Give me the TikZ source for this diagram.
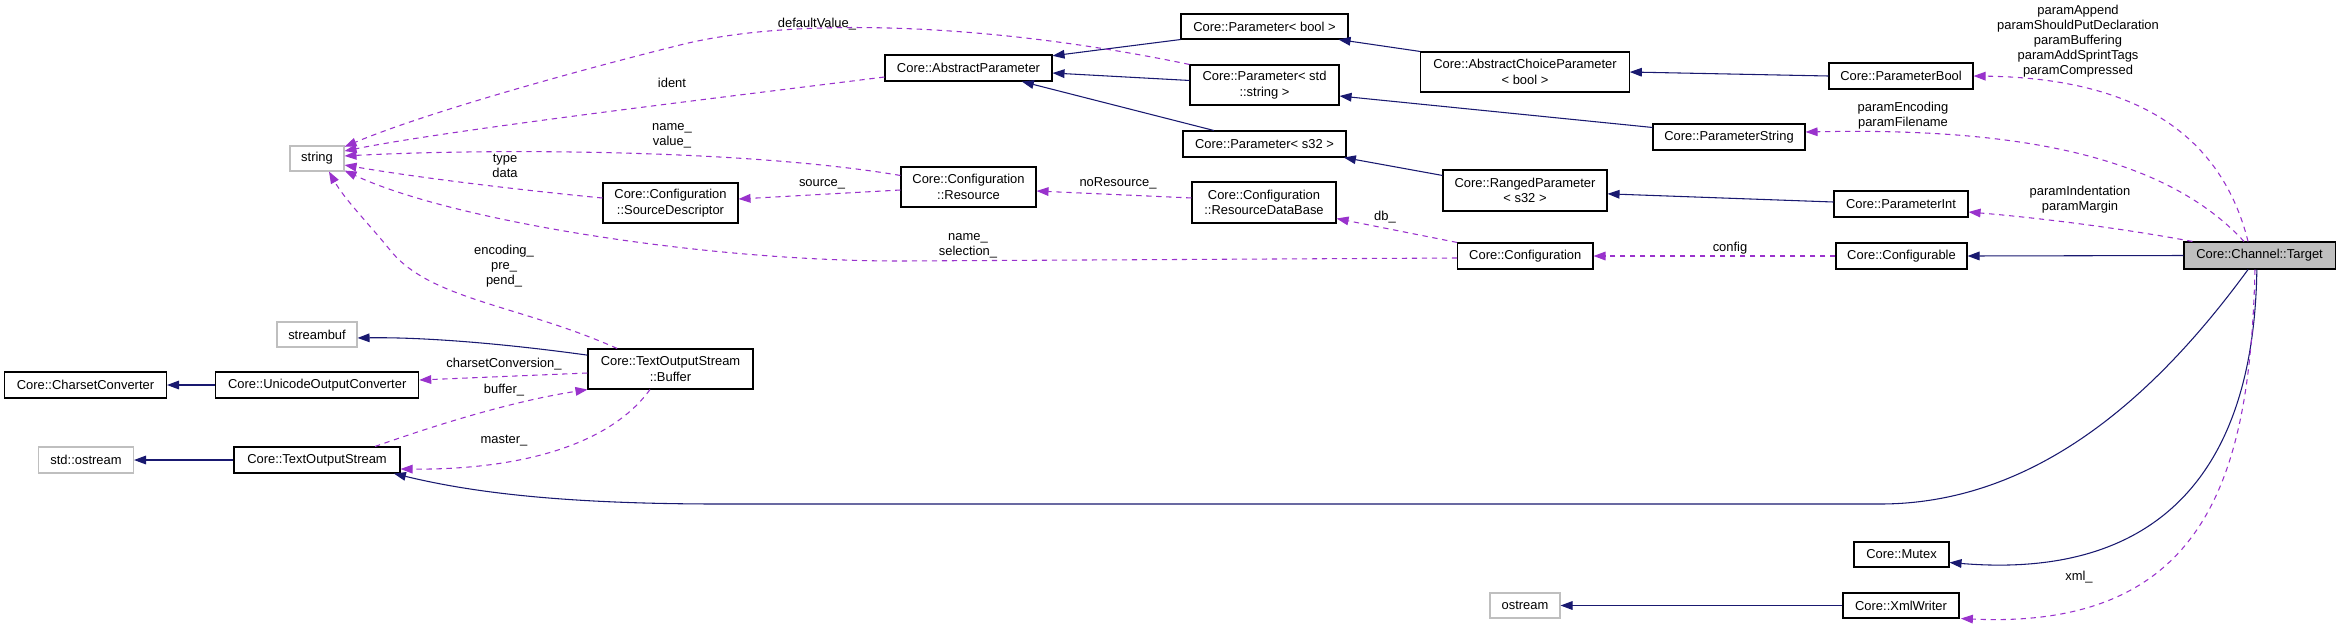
\documentclass[tikz,border=0pt]{standalone}
\usepackage{fontspec}
\setmainfont{Liberation Sans}
\usetikzlibrary{arrows.meta}
\definecolor{inhcol}{RGB}{25,25,112}
\definecolor{usecol}{RGB}{153,50,204}
\definecolor{undoc}{RGB}{191,191,191}
\begin{document}
\begin{tikzpicture}[x=0.75pt,y=-0.75pt,
  box/.style={draw=black, line width=0.8pt, fill=white, inner sep=0pt, align=center,
    font=\fontsize{9.7}{11.5}\selectfont},
  gbox/.style={box, draw=undoc},
  inh/.style={draw=inhcol, line width=0.8pt, -{Triangle[length=9pt,width=6.5pt]}},
  use/.style={draw=usecol, line width=0.8pt, dash pattern=on 4pt off 3.5pt, -{Triangle[length=9pt,width=6.5pt]}},
  lbl/.style={inner sep=0pt, align=center, font=\fontsize{9.7}{11.25}\selectfont}]
\useasboundingbox (0,0) rectangle (2340,629);
% nodes
\node[gbox, minimum width=40.5pt, minimum height=18.75pt] (string) at (317,158.5) {string};
\node[gbox, minimum width=60pt, minimum height=18.75pt] (streambuf) at (317,334.5) {streambuf};
\node[box, minimum width=121.5pt, minimum height=19.5pt] (charset) at (85.5,385) {Core::CharsetConverter};
\node[box, minimum width=152.25pt, minimum height=19.5pt] (unicode) at (317.2,385) {Core::UnicodeOutputConverter};
\node[gbox, minimum width=71.25pt, minimum height=19.5pt] (stdostream) at (86,460) {std::ostream};
\node[box, minimum width=124.5pt, minimum height=19.5pt] (textout) at (317,460) {Core::TextOutputStream};
\node[box, minimum width=123.75pt, minimum height=30pt] (buffer) at (670.5,369) {Core::TextOutputStream\\::Buffer};
\node[box, minimum width=101.25pt, minimum height=30pt] (sourcedesc) at (670.5,203) {Core::Configuration\\::SourceDescriptor};
\node[box, minimum width=101.25pt, minimum height=30pt] (resource) at (968.5,187) {Core::Configuration\\::Resource};
\node[box, minimum width=125.25pt, minimum height=19.5pt] (absparam) at (968.5,68) {Core::AbstractParameter};
\node[box, minimum width=125.25pt, minimum height=18.75pt] (pbool) at (1264.5,26.5) {Core::Parameter< bool >};
\node[box, minimum width=111.75pt, minimum height=30pt] (pstr) at (1264.5,85) {Core::Parameter< std\\::string >};
\node[box, minimum width=122.25pt, minimum height=19.5pt] (ps32) at (1264.5,144) {Core::Parameter< s32 >};
\node[box, minimum width=108pt, minimum height=30.75pt] (rdb) at (1264,202.5) {Core::Configuration\\::ResourceDataBase};
\node[box, minimum width=156.4pt, minimum height=30pt] (acp) at (1525,72) {Core::AbstractChoiceParameter\\< bool >};
\node[box, minimum width=114pt, minimum height=19.5pt] (pstring) at (1729,137) {Core::ParameterString};
\node[box, minimum width=123pt, minimum height=30.75pt] (ranged) at (1525,190.5) {Core::RangedParameter\\< s32 >};
\node[box, minimum width=101.5pt, minimum height=19.5pt] (config) at (1525.3,256) {Core::Configuration};
\node[box, minimum width=108pt, minimum height=19.5pt] (pboolc) at (1901,76) {Core::ParameterBool};
\node[box, minimum width=100.5pt, minimum height=19.5pt] (pint) at (1901,204) {Core::ParameterInt};
\node[box, minimum width=98.25pt, minimum height=19.5pt] (configurable) at (1901.5,256) {Core::Configurable};
\node[box, fill=undoc, minimum width=113.25pt, minimum height=20.25pt] (target) at (2259.5,255.5) {Core::Channel::Target};
\node[box, minimum width=71.25pt, minimum height=18.75pt] (mutex) at (1901.5,554.5) {Core::Mutex};
\node[box, minimum width=87pt, minimum height=18.75pt] (xmlwriter) at (1901,605.5) {Core::XmlWriter};
\node[gbox, minimum width=52.5pt, minimum height=18.75pt] (ostream) at (1525,605.5) {ostream};
% inheritance edges
\draw[inh] (pbool.south west) -- ([yshift=-1pt]absparam.north east);
\draw[inh] ([yshift=3.4pt]pstr.west) -- ([yshift=-3.75pt]absparam.east);
\draw[inh] ([xshift=-38pt]ps32.north) -- ([xshift=40pt]absparam.south);
\draw[inh] (acp.north west) -- ([xshift=-7.5pt]pbool.south east);
\draw[inh] ([yshift=-3pt]pstring.north west) -- ([yshift=-8.25pt]pstr.east);
\draw[inh] ([yshift=-4.5pt]ranged.north west) -- ([xshift=-2pt]ps32.south east);
\draw[inh] (pboolc.west) -- (acp.east);
\draw[inh] ([yshift=1.5pt]pint.west) -- ([yshift=-2.5pt]ranged.east);
\draw[inh] (target.west) -- (configurable.east);
\draw[inh] ([yshift=-5pt]buffer.north west) .. controls (500,343) and (420,337) .. ([yshift=-2.6pt]streambuf.east);
\draw[inh] (unicode.west) -- (charset.east);
\draw[inh] (textout.west) -- (stdostream.east);
\draw[inh] ([xshift=-8.6pt]target.south) .. controls (2160,390) and (2040,504) .. (1880,504) -- (720,504) .. controls (560,504) and (470,492) .. ([xshift=-5pt]textout.south east);
\draw[inh] ([xshift=-2pt]target.south) .. controls (2254,470) and (2160,580) .. ([yshift=-6pt]mutex.east);
\draw[inh] (xmlwriter.west) -- (ostream.east);
% usage edges
\draw[use] (pstr.north west) .. controls (1000,25) and (800,15) .. (680,45) .. controls (560,75) and (420,115) .. ([yshift=-1pt]string.north east);
\draw[use] ([yshift=-6.75pt]absparam.west) .. controls (700,100) and (450,130) .. ([yshift=5.6pt]string.east);
\draw[use] ([yshift=-6.75pt]resource.north west) .. controls (750,150) and (500,148) .. ([yshift=1.9pt]string.east);
\draw[use] ([yshift=3.75pt]sourcedesc.west) .. controls (520,190) and (420,178) .. ([yshift=-4.9pt]string.east);
\draw[use] ([yshift=-1.5pt]config.west) -- (900,261) .. controls (700,261) and (450,220) .. ([yshift=0.75pt]string.south east);
\draw[use] ([xshift=-40pt]buffer.north) .. controls (520,305) and (430,300) .. (390,250) .. controls (370,225) and (345,200) .. ([xshift=9pt]string.south);
\draw[use] ([yshift=-2.25pt]resource.west) -- ([yshift=3pt]sourcedesc.east);
\draw[use] ([yshift=3.4pt]rdb.west) -- ([yshift=-3pt]resource.east);
\draw[use] (config.north west) -- ([yshift=3.75pt]rdb.south east);
\draw[use] (configurable.west) -- (config.east);
\draw[use] ([xshift=-8.6pt]target.north) .. controls (2220,130) and (2130,78) .. (pboolc.east);
\draw[use] ([xshift=-11.6pt]target.north) .. controls (2160,150) and (2000,128) .. ([yshift=3.75pt]pstring.east);
\draw[use] ([xshift=6.75pt]target.north west) .. controls (2120,228) and (2040,218) .. ([yshift=-6pt]pint.east);
\draw[use] ([xshift=-3.4pt]target.south) .. controls (2250,470) and (2210,630) .. ([xshift=1pt]xmlwriter.south east);
\draw[use] ([yshift=-3pt]buffer.west) -- ([yshift=3.75pt]unicode.east);
\draw[use] ([xshift=43.5pt]textout.north) .. controls (450,420) and (520,400) .. (buffer.south west);
\draw[use] ([xshift=-15.4pt]buffer.south) .. controls (610,445) and (520,470) .. ([yshift=-6.75pt]textout.east);
% labels
\node[lbl] (l1) at (817,24) {defaultValue\_};
\node[lbl] (l2) at (672,83) {ident};
\node[lbl] (l3) at (672,135.5) {name\_\\value\_};
\node[lbl] (l4) at (505,166) {type\\data};
\node[lbl] (l5) at (504,266.5) {encoding\_\\pre\_\\pend\_};
\node[lbl] (l6) at (822,184) {source\_};
\node[lbl] (l7) at (1118,183) {noResource\_};
\node[lbl] (l8) at (968,246) {name\_\\selection\_};
\node[lbl] (l9) at (1385,217) {db\_};
\node[lbl] (l10) at (1730,248) {config};
\node[lbl] (l11) at (2078,41.5) {paramAppend\\paramShouldPutDeclaration\\paramBuffering\\paramAddSprintTags\\paramCompressed};
\node[lbl] (l12) at (1903,115.5) {paramEncoding\\paramFilename};
\node[lbl] (l13) at (2080,199.5) {paramIndentation\\paramMargin};
\node[lbl] (l14) at (504,364) {charsetConversion\_};
\node[lbl] (l15) at (504,390) {buffer\_};
\node[lbl] (l16) at (504,441) {master\_};
\node[lbl] (l17) at (2079,577) {xml\_};
\end{tikzpicture}
\end{document}
